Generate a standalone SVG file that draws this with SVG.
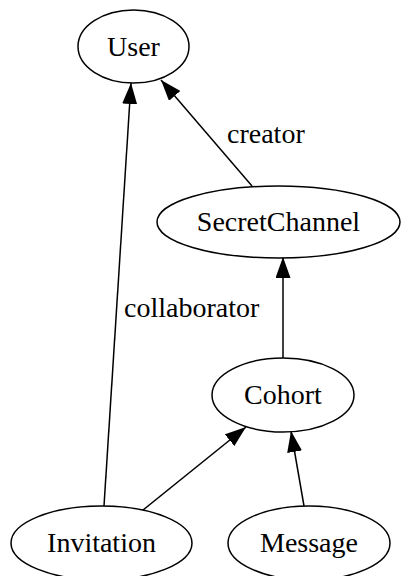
<svg xmlns="http://www.w3.org/2000/svg" width="401" height="576" viewBox="0 0 401 576">
<style>
.node ellipse{fill:#fff;stroke:#000;stroke-width:1.5}
text{font-family:"Liberation Serif","Times New Roman",serif;font-size:28px;fill:#000}
.node text{text-anchor:middle}
.edge line{stroke:#000;stroke-width:1.5;marker-end:url(#arr)}
</style>
<defs>
<marker id="arr" viewBox="0 0 21 15" refX="21" refY="7.5" markerWidth="21" markerHeight="15" markerUnits="userSpaceOnUse" orient="auto">
<path d="M0,0 L21,7.5 L0,15 z" fill="#000"/>
</marker>
</defs>
<g id="edges" class="edge">
<line x1="104" y1="506" x2="131" y2="83"/>
<line x1="252" y1="186" x2="161" y2="80"/>
<line x1="283" y1="358" x2="283" y2="257"/>
<line x1="143" y1="510" x2="246" y2="427"/>
<line x1="304" y1="506" x2="291" y2="431"/>
<text x="227" y="143">creator</text>
<text x="124" y="317">collaborator</text>
</g>
<g id="User" class="node"><ellipse cx="133.5" cy="46.5" rx="55.5" ry="36.5"/><text x="133.5" y="56">User</text></g>
<g id="SecretChannel" class="node"><ellipse cx="278.5" cy="222" rx="121.5" ry="36"/><text x="278.5" y="231">SecretChannel</text></g>
<g id="Cohort" class="node"><ellipse cx="283" cy="395" rx="71" ry="37"/><text x="283" y="404">Cohort</text></g>
<g id="Invitation" class="node"><ellipse cx="101.5" cy="543" rx="90.5" ry="37"/><text x="101.5" y="552">Invitation</text></g>
<g id="Message" class="node"><ellipse cx="309" cy="543" rx="81" ry="37"/><text x="309" y="552">Message</text></g>
</svg>
